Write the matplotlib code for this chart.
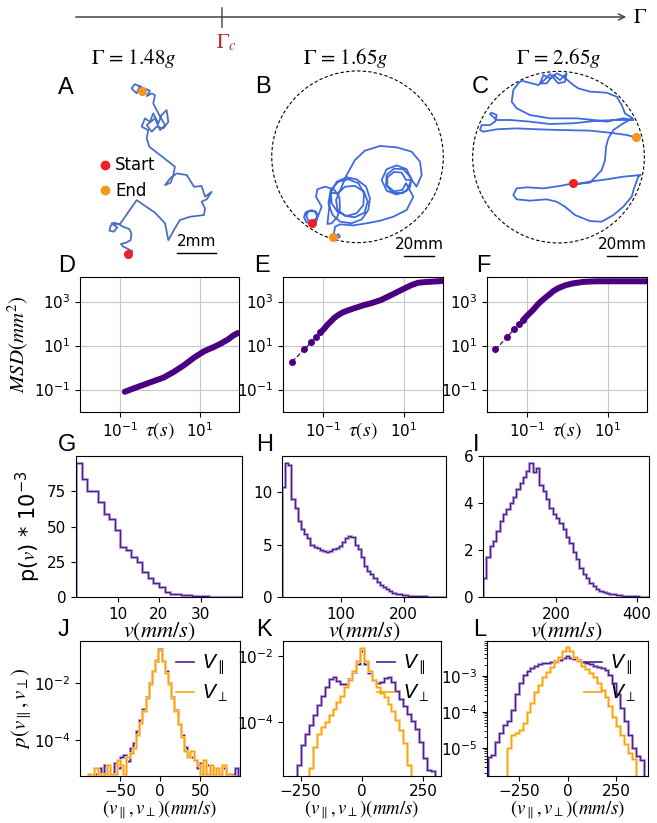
#!/usr/bin/env python3
"""plot.py — trajectories, MSD, speed and velocity distributions at three Γ."""

import numpy as np
import matplotlib
matplotlib.use("Agg")
import matplotlib.pyplot as plt
from matplotlib.patches import Circle
from matplotlib.lines import Line2D
from matplotlib.ticker import NullLocator

W, H = 657, 823

TITLES = [r"$\Gamma$ = 1.48$g$", r"$\Gamma$ = 1.65$g$", r"$\Gamma$ = 2.65$g$"]

# --- trajectories (mm) ---
traj_a_x = [0, 0.22, -0.05, -0.26, -0.38, -0.12, 0.12, 0.16, 0.05, -0.26, -0.50, -0.74,
            -0.91, -0.98, -0.74, -0.57, -0.86, -0.43, 0.43, 0.81, 1.38, 1.90, 2.07, 2.41,
            2.67, 3.19, 3.91, 3.97, 3.79, 4.05, 4.31, 3.97, 3.79, 3.40, 3.02, 2.50, 2.16,
            1.90, 2.19, 2.33, 2.41, 1.98, 1.09, 0.95, 1.03, 0.69, 0.86, 1.12, 1.29, 1.55,
            1.72, 1.98, 2.07, 1.81, 1.47, 1.21, 0.95, 1.38, 1.64, 1.90, 1.55, 1.29, 1.38,
            1.21, 0.95, 1.12, 0.60, 0.34, 0.17, 0.43, 0.60, 0.78, 0.69]
traj_a_y = [0, 0.14, 0.28, 0.38, 0.52, 0.59, 0.72, 1.07, 1.29, 1.41, 1.55, 1.62,
            1.47, 1.21, 1.16, 1.38, 1.59, 1.55, 2.79, 2.53, 2.14, 1.59, 0.72, 1.33,
            1.76, 1.93, 2.02, 2.36, 2.71, 2.83, 3.22, 2.97, 3.52, 3.48, 4.09, 4.17, 3.91,
            3.57, 3.69, 4.09, 4.52, 4.86, 5.55, 5.98, 6.41, 6.59, 7.02, 6.84, 7.28, 6.76,
            7.19, 7.45, 6.84, 6.50, 6.59, 6.33, 6.67, 7.02, 6.41, 6.67, 7.28, 7.79, 8.22,
            8.31, 8.17, 8.45, 8.66, 8.79, 8.57, 8.31, 8.69, 8.40, 8.45]

traj_b_x = [-30.6, -26.8, -28.1, -31.2, -34.6, -35.7, -34.3, -31.0, -27.7,
            -26.6, -27.7, -30.3, -33.2, -34.1, -33.0, -30.3, -27.4, -26.3,
            -23.9, -27.7, -26.8, -21.7, -15.7, -12.1, -11.7, -13.4, -17.2, -20.1,
            -18.8, -17.9, -13.9, -7.2, -0.6, 5.7, 8.3, 7.2, 2.8, -3.9, -11.7, -16.6, -19.4,
            -17.9, -12.8, -6.1, 0.6, 4.3, 3.9, -0.6, -7.2, -13.4, -17.2, -17.9,
            -12.8, -8.3, -1.7, 4.3, 6.8, 4.6, -1.7, -8.3, -13.4, -14.3, -11.7,
            -7.2, -1.7, 5.0, 15.0, 26.1, 36.1, 41.7, 42.8, 39.4,
            36.1, 32.8, 26.1, 19.4, 16.1, 19.4, 26.1, 32.8, 36.1,
            35.0, 30.6, 24.3, 19.4, 19.0, 23.4, 30.1, 35.0, 35.7,
            32.3, 29.4, 24.3, 19.9, 19.9, 24.3, 29.9, 32.3,
            37.2, 32.8, 23.9, 15.0, 6.1, -2.8, -11.7, -15.0, -15.7, -13.9, -11.7, -12.8, -15.7, -16.1]
traj_b_y = [-44.3, -39.9, -36.8, -35.7, -37.0, -40.1, -43.4, -44.8, -43.7,
            -39.2, -36.6, -35.7, -36.6, -39.4, -42.3, -43.2, -42.1, -39.4,
            -33.2, -26.6, -21.7, -19.9, -21.7, -27.0, -34.3, -39.9, -44.3, -44.8,
            -33.2, -24.3, -16.6, -13.7, -15.0, -19.9, -27.7, -35.4, -41.7, -44.3, -43.2, -38.8, -31.0,
            -22.1, -16.6, -15.0, -17.6, -24.3, -32.1, -37.7, -39.4, -36.6, -31.0, -24.3,
            -23.9, -19.9, -19.4, -23.2, -29.9, -37.2, -40.3, -39.4, -35.0, -28.8, -22.6,
            -12.1, -2.1, 4.1, 7.2, 6.3, 3.4, -3.3, -12.1, -19.9,
            -15.4, -8.3, -5.7, -8.3, -15.4, -22.6, -25.2, -22.6, -15.4,
            -13.2, -8.3, -7.9, -12.1, -18.8, -23.9, -24.3, -20.4, -15.4,
            -15.4, -10.5, -10.1, -13.7, -19.4, -23.0, -22.1, -17.6,
            -26.6, -35.4, -39.9, -42.6, -44.3, -45.7, -45.0, -46.6, -51.0, -54.3, -53.2, -51.6, -53.2, -53.7]

traj_c_x = [9.9, 1.0, -10.1, -21.2, -27.9, -30.1, -27.9, -19.0, -7.9, -1.2, 4.3, 11.0,
            21.0, 28.8, 36.6, 43.2, 48.8, 50.3, 53.2, 54.8, 43.2, 32.1, 21.0, 12.1,
            21.0, 28.8, 31.0, 31.7, 33.2, 36.6, 43.2, 49.4, 44.3, 42.1, 38.8, 32.1,
            21.0, 13.2, 9.9, 3.2, -1.2, -5.7, -10.1, -12.3, -7.9, -3.4, 1.0, 5.4, 4.3,
            -0.1, -5.7, -9.0, -13.4, -24.6, -26.8, -30.1, -31.2, -27.9, -19.0, -5.7,
            12.1, 23.2, 32.1, 43.2, 49.9, 38.8, 25.4, 9.9, -5.7, -19.0, -32.3, -41.2,
            -45.7, -44.6, -41.2, -42.3, -45.7, -51.2, -52.3, -50.1, -41.2, -27.9, -14.6,
            1.0, 21.0, 34.3, 45.5, 51.4]
traj_c_y = [-17.4, -19.2, -20.8, -20.1, -20.8, -25.2, -28.1, -29.0, -28.1, -29.7, -33.0, -38.6,
            -42.6, -43.0, -38.6, -33.0, -26.3, -20.8, -13.0, -11.9, -13.0, -14.8, -16.3, -17.9,
            -17.0, -8.6, -1.9, 7.0, 12.6, 18.1, 22.6, 25.9, 29.2, 34.8, 40.3, 43.0,
            43.7, 45.9, 48.1, 53.7, 55.9, 52.6, 54.8, 49.2, 49.2, 54.8, 51.4, 55.9, 50.3,
            49.2, 55.4, 51.9, 48.1, 51.0, 49.2, 44.8, 37.0, 32.6, 28.1, 25.9,
            25.9, 24.8, 23.7, 25.9, 24.8, 24.8, 24.3, 22.6, 22.1, 23.7, 24.8, 24.8,
            28.8, 29.7, 28.1, 23.7, 21.4, 21.4, 18.1, 17.0, 18.6, 19.2, 18.6,
            18.1, 17.7, 16.3, 14.8, 13.2]

ARENA_RADIUS = 57.2  # mm

# --- MSD ---
d_tau = [0.134, 0.264, 0.571, 1.24, 2.21, 3.95, 7.07, 12.6, 22.5, 33, 49, 66, 87]
d_msd = [0.079, 0.126, 0.21, 0.35, 0.63, 1.26, 2.8, 5.5, 8.7, 12.3, 18.6, 28, 37]
e_tau = [0.0173, 0.0346, 0.052, 0.069, 0.087, 0.106, 0.129, 0.156, 0.188, 0.228, 0.304,
         0.405, 0.59, 1.05, 1.54, 2.72, 4.83, 8.57, 15.2, 22.3, 32.5, 70.5, 88]
e_msd = [1.85, 6.6, 14.7, 24.6, 39.6, 56, 88, 123, 176, 229, 316,
         389, 490, 692, 830, 1170, 1950, 3300, 5500, 7100, 7600, 8300, 8500]
f_tau = [0.0166, 0.033, 0.048, 0.065, 0.082, 0.106, 0.142, 0.19, 0.255, 0.342, 0.459,
         0.615, 0.906, 1.34, 2.41, 5.25, 25, 95]
f_msd = [6.6, 24.6, 56, 97, 148, 247, 415, 776, 1260, 1950, 3070,
         4170, 5500, 6600, 7760, 8300, 8300, 8300]

# --- speed pdf, p(v) * 1e-3 ---
g_range, g_vals = (0.0, 40.0), [95.3, 83.8, 75.4, 75.4, 67.4, 59.1, 55.3, 47.6, 35.3, 33.3,
                                28.6, 25.0, 17.9, 13.6, 10.2, 7.1, 3.6, 2.4, 2.4, 1.2,
                                1.2, 0.8, 0.6, 0.4, 0.3, 0.2, 0.2, 0.1, 0.1, 0.1]
h_range, h_vals = (7.0, 267.0), [10.5, 12.8, 12.6, 9.3, 8.5, 7.2, 6.5, 6.0, 5.6, 5.0,
                                 4.75, 4.65, 4.5, 4.35, 4.25, 4.35, 4.55, 4.65, 4.9, 5.2,
                                 5.6, 5.8, 5.75, 5.0, 4.55, 3.8, 3.0, 2.45, 2.15, 1.8,
                                 1.4, 1.1, 0.95, 0.75, 0.55, 0.38, 0.32, 0.26, 0.22, 0.18,
                                 0.14, 0.12, 0.10, 0.08, 0.06, 0.05, 0.04, 0.03, 0.02, 0.02,
                                 0.01, 0.01]
i_range, i_vals = (16.5, 431.0), [0.8, 1.72, 2.18, 2.4, 2.8, 3.25, 3.55, 3.75, 4.0, 4.25,
                                  4.6, 4.85, 5.1, 5.35, 5.7, 5.3, 5.5, 4.75, 4.5, 4.15,
                                  3.8, 3.55, 3.35, 3.15, 2.9, 2.55, 2.3, 1.9, 1.6, 1.25,
                                  0.97, 0.8, 0.6, 0.45, 0.34, 0.25, 0.2, 0.15, 0.13, 0.11,
                                  0.09, 0.07, 0.05, 0.045, 0.035, 0.03, 0.025, 0.02, 0.015, 0.01]

# --- velocity component pdfs, log10 of density (None = empty bin) ---
j_range = (-98.0, 98.0)
j_par = [None, None, None, None, -5.2, -5.0, -5.2, -4.9, -5.2, None, -4.8, -5.0, -4.6,
         -4.55, -4.75, -4.3, -4.1, -3.7, -3.3, -2.93, -2.5, -2.0, -1.6, -1.25, -0.83,
         -1.25, -1.6, -2.0, -2.5, -2.95, -3.45, -3.85, -4.25, -4.45, -4.6, -4.7, -5.0,
         -4.8, -5.2, -4.9, -5.2, -5.0, -5.2, -5.2, -5.0, None, -5.2, -5.2, -5.0]
j_perp = [None, None, -5.2, None, -5.0, -5.2, None, -5.2, -4.9, -5.2, -5.2, -4.7, -4.9,
          -5.2, -4.6, -4.45, -4.3, -3.85, -3.4, -3.0, -2.55, -2.05, -1.6, -1.22, -0.85,
          -1.25, -1.65, -2.05, -2.55, -3.0, -3.45, -3.9, -4.4, -4.6, -4.4, -4.7, -4.9,
          -5.2, -4.7, -5.2, -4.9, -5.2, -5.0, -5.2, -4.9, -5.2, -5.2, None, None]
k_range = (-328.0, 328.0)
k_par = [None, None, None, None, -5.3, -4.7, -4.35, -4.1, -3.8, -3.48, -3.2, -2.95, -2.68,
         -2.62, -2.75, -2.85, -2.85, -2.68, -2.47, -2.25, -1.85, -2.25, -2.5, -2.72, -2.82,
         -2.78, -2.67, -2.62, -2.8, -3.05, -3.3, -3.52, -3.75, -3.97, -4.2, -4.6, -5.1,
         -5.45, -5.5, None, None]
k_perp = [None, None, None, None, None, None, None, -5.4, -4.75, -4.35, -4.15, -4.0, -3.8,
          -3.6, -3.38, -3.2, -2.95, -2.72, -2.45, -2.15, -1.74, -2.15, -2.45, -2.72, -2.95,
          -3.12, -3.25, -3.45, -3.68, -3.95, -4.25, -4.65, -5.3, None, None, None, None,
          None, None, None, None]
l_range = (-410.0, 410.0)
l_par = [-5.25, -5.2, -4.85, -4.6, -4.37, -4.25, -3.95, -3.5, -3.2, -2.98, -2.87, -2.8,
         -2.73, -2.68, -2.65, -2.64, -2.62, -2.6, -2.56, -2.5, -2.46, -2.5, -2.54, -2.58,
         -2.61, -2.64, -2.68, -2.73, -2.77, -2.8, -2.85, -2.98, -3.2, -3.5, -3.9, -4.25,
         -4.65, -5.0, -5.22, -5.35, None]
l_perp = [None, None, None, None, None, -5.0, -4.65, -4.58, -4.5, -4.3, -4.0, -3.75,
          -3.45, -3.25, -3.05, -2.9, -2.77, -2.62, -2.47, -2.33, -2.22, -2.33, -2.47, -2.6,
          -2.72, -2.82, -2.92, -3.05, -3.2, -3.4, -3.58, -3.85, -4.15, -4.4, -4.65, -4.9,
          -5.15, -5.3, None, None, None]

TRAJ_A = "#4a70c2"
TRAJ_BC = "#3f6ae0"
RED = "#ee2024"
ORANGE = "#f7941d"
MSD_COLOR = "indigo"
PURPLE = "#4e1f8a"
PURPLE_LIGHT = "#b59be0"
ORANGE_LINE = "#ffa200"
ORANGE_LIGHT = "#ffd28a"


def add_ax(fig, left, top, right, bottom):
    return fig.add_axes([left / W, 1 - bottom / H, (right - left) / W, (bottom - top) / H])


def logs_to_density(vals):
    return np.array([0.0 if v is None else 10.0 ** v for v in vals])


def draw_traj(ax, xs, ys, color, xlim, ylim, radius=None):
    if radius is not None:
        ax.add_patch(Circle((0, 0), radius, fill=False, ls=(0, (3, 2)), lw=0.8, color="k"))
    ax.plot(xs, ys, color=color, lw=1.3, solid_joinstyle="round")
    ax.plot(xs[0], ys[0], "o", color=RED, ms=5.5, zorder=5)
    ax.plot(xs[-1], ys[-1], "o", color=ORANGE, ms=5.5, zorder=5)
    ax.set_xlim(xlim)
    ax.set_ylim(ylim)
    ax.axis("off")


def scale_bar(ax, x0, x1, y, dy, text):
    ax.plot([x0, x1], [y, y], color="k", lw=1.0)
    ax.text((x0 + x1) / 2, y + dy, text, ha="center", va="bottom", fontsize=11)


def draw_msd(ax, tau, msd, n_sparse):
    ax.plot(tau, msd, ls="--", lw=0.9, color=MSD_COLOR)
    if n_sparse:
        ax.plot(tau[:n_sparse], msd[:n_sparse], "o", ms=4, color=MSD_COLOR)
    k = max(n_sparse - 1, 0)
    ax.plot(tau[k:], msd[k:], "-", lw=4.3, color=MSD_COLOR, solid_capstyle="round")
    ax.set_xscale("log")
    ax.set_yscale("log")
    ax.set_xlim(0.0103, 93)
    ax.set_ylim(0.0095, 1.3e4)
    ax.set_xticks([1e-1, 1e1])
    ax.set_yticks([1e-1, 1e1, 1e3])
    ax.xaxis.set_minor_locator(NullLocator())
    ax.yaxis.set_minor_locator(NullLocator())
    ax.grid(True, color="#c8c8c8", lw=0.8)
    ax.set_axisbelow(True)
    ax.set_xlabel(r"$\tau(s)$", fontsize=14)
    ax.xaxis.set_label_coords(0.5, -0.06)


def draw_speed(ax, rng, vals, xticks, yticks):
    edges = np.linspace(rng[0], rng[1], len(vals) + 1)
    ax.stairs(vals, edges, color=PURPLE_LIGHT, lw=2.0)
    ax.stairs(vals, edges, color=PURPLE, lw=0.9)
    ax.set_xlim(rng)
    ax.set_ylim(0, max(vals) * 1.05)
    ax.set_xticks(xticks)
    ax.set_yticks(yticks)
    ax.set_xlabel(r"$v(mm/s)$", fontsize=16)
    ax.xaxis.set_label_coords(0.5, -0.165)


def draw_comp(ax, half_width, par, perp, rng, ylim, xticks, yticks, minor=False):
    edges = np.linspace(rng[0], rng[1], len(par) + 1)
    p, q = logs_to_density(par), logs_to_density(perp)
    ax.set_yscale("log")
    ax.stairs(p, edges, color=PURPLE_LIGHT, lw=2.0)
    ax.stairs(p, edges, color=PURPLE, lw=0.9)
    ax.stairs(q, edges, color=ORANGE_LIGHT, lw=2.0)
    ax.stairs(q, edges, color=ORANGE_LINE, lw=0.9)
    ax.set_xlim(-half_width, half_width)
    ax.set_ylim(ylim)
    ax.set_xticks(xticks)
    ax.set_yticks(yticks)
    if not minor:
        ax.yaxis.set_minor_locator(NullLocator())
    ax.tick_params(axis="x", pad=2.5)
    ax.set_xlabel(r"$(v_\parallel, v_\perp)(mm/s)$", fontsize=13.5)
    ax.xaxis.set_label_coords(0.5, -0.165)
    handles = [Line2D([], [], color=PURPLE, lw=1.2, label=r"$V_\parallel$"),
               Line2D([], [], color=ORANGE_LINE, lw=1.2, label=r"$V_\perp$")]
    leg = ax.legend(handles=handles, loc="upper right", frameon=False, fontsize=14,
                    handlelength=0.9, handletextpad=0.4, labelspacing=0.3,
                    borderaxespad=0.2)
    for t in leg.get_texts():
        t.set_math_fontfamily("dejavusans")


def main():
    plt.rcParams["mathtext.fontset"] = "stix"
    plt.rcParams["font.size"] = 11
    plt.rcParams["axes.linewidth"] = 0.8
    plt.rcParams["xtick.labelsize"] = 11
    plt.rcParams["ytick.labelsize"] = 11

    fig = plt.figure(figsize=(W / 100, H / 100), dpi=100)

    # overlay for the Γ axis, titles and panel letters (pixel coordinates)
    ov = fig.add_axes([0, 0, 1, 1])
    ov.set_xlim(0, W)
    ov.set_ylim(H, 0)
    ov.axis("off")
    ov.annotate("", xy=(629, 17), xytext=(73, 17),
                arrowprops=dict(arrowstyle="->", color="#444444", lw=1.1))
    ov.plot([222, 222], [8, 27], color="#555555", lw=1.1)
    ov.text(226, 43, r"$\Gamma_c$", color="#c0282d", ha="center", va="center", fontsize=15)
    ov.text(633, 17, r"$\Gamma$", ha="left", va="center", fontsize=15)
    for x, t in zip([134, 346, 559], TITLES):
        ov.text(x, 58, t, ha="center", va="center", fontsize=15, family="STIXGeneral")
    letters = {"A": (66, 88), "B": (263, 87), "C": (480, 87),
               "D": (67, 266), "E": (262, 266), "F": (483, 266),
               "G": (67, 445), "H": (265, 445), "I": (476, 445),
               "J": (63, 630), "K": (264, 630), "L": (480, 630)}
    for s, (x, y) in letters.items():
        ov.text(x, y, s, ha="center", va="center", fontsize=17, family="Liberation Sans")

    # A-C trajectories
    ax = add_ax(fig, 80, 70, 230, 262)
    draw_traj(ax, traj_a_x, traj_a_y, TRAJ_A, (-2.50, 5.26), (-0.41, 9.52))
    scale_bar(ax, 2.53, 4.53, 0.07, 0.2, "2mm")
    handles = [Line2D([], [], marker="o", ls="", color=RED, ms=6, label="Start"),
               Line2D([], [], marker="o", ls="", color=ORANGE, ms=6, label="End")]
    ax.legend(handles=handles, loc="upper left", bbox_to_anchor=(92 / W, 1 - 148 / H),
              bbox_transform=fig.transFigure, frameon=False, fontsize=12,
              handlelength=0.6, handletextpad=0.3, labelspacing=0.45, borderpad=0)

    ax = add_ax(fig, 262, 66, 452, 262)
    draw_traj(ax, traj_b_x, traj_b_y, TRAJ_BC, (-63.7, 63.0), (-70.1, 60.5), ARENA_RADIUS)
    scale_bar(ax, 31.2, 51.2, -66.1, 2.5, "20mm")

    ax = add_ax(fig, 465, 66, 655, 262)
    draw_traj(ax, traj_c_x, traj_c_y, TRAJ_BC, (-62.3, 64.3), (-69.9, 60.8), ARENA_RADIUS)
    scale_bar(ax, 32.5, 52.5, -65.6, 2.5, "20mm")

    # D-F MSD
    ax = add_ax(fig, 80, 277, 239, 412)
    draw_msd(ax, d_tau, d_msd, 0)
    ax.set_ylabel(r"$MSD(mm^2)$", fontsize=15)
    ax.yaxis.set_label_coords(-0.31, 0.5)
    ax = add_ax(fig, 283, 277, 443, 412)
    draw_msd(ax, e_tau, e_msd, 5)
    ax = add_ax(fig, 487, 277, 647, 412)
    draw_msd(ax, f_tau, f_msd, 5)

    # G-I speed distributions
    ax = add_ax(fig, 76, 456, 242, 597)
    draw_speed(ax, g_range, g_vals, [10, 20, 30], [0, 25, 50, 75])
    ax.set_ylabel(r"p($v$) * $\mathregular{10^{-3}}$", fontsize=15)
    ax.yaxis.set_label_coords(-0.20, 0.5)
    ax = add_ax(fig, 282, 456, 446, 597)
    draw_speed(ax, h_range, h_vals, [100, 200], [0, 5, 10])
    ax = add_ax(fig, 483, 456, 649, 597)
    draw_speed(ax, i_range, i_vals, [200, 400], [0, 2, 4, 6])

    # J-L velocity components
    ax = add_ax(fig, 80, 641, 240, 776)
    draw_comp(ax, 100, j_par, j_perp, j_range, (10 ** -5.27, 10 ** -0.54),
              [-50, 0, 50], [1e-2, 1e-4])
    ax.set_ylabel(r"$p(v_\parallel, v_\perp)$", fontsize=15)
    ax.yaxis.set_label_coords(-0.29, 0.5)
    ax = add_ax(fig, 283, 641, 441, 776)
    draw_comp(ax, 322, k_par, k_perp, k_range, (10 ** -5.64, 10 ** -1.54),
              [-250, 0, 250], [1e-2, 1e-4])
    ax = add_ax(fig, 487, 641, 648, 776)
    draw_comp(ax, 413, l_par, l_perp, l_range, (10 ** -5.78, 10 ** -2.04),
              [-250, 0, 250], [1e-3, 1e-4, 1e-5], minor=True)

    fig.savefig("out.png", dpi=100)


if __name__ == "__main__":
    main()
